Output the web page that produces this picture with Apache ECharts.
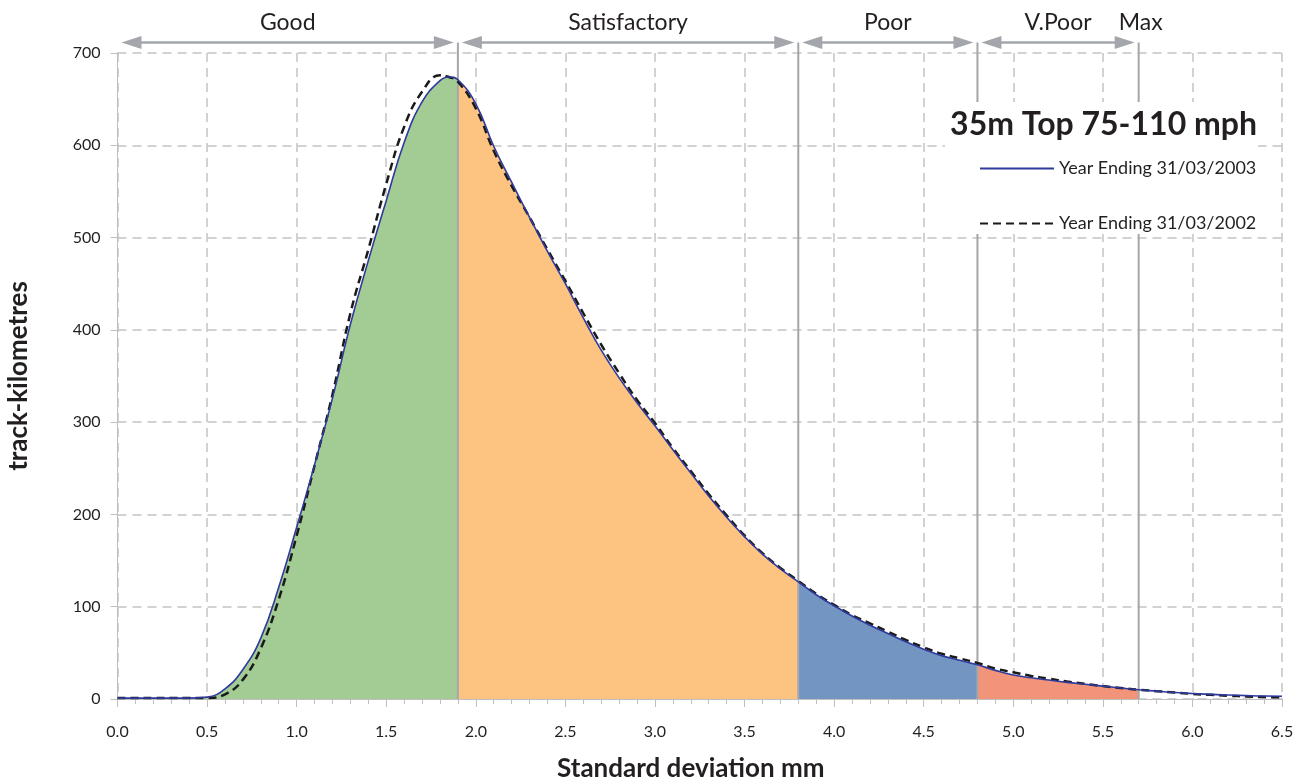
<!DOCTYPE html>
<html><head><meta charset="utf-8">
<script src="https://cdn.jsdelivr.net/npm/echarts@6/dist/echarts.min.js"></script>
<style>html,body{margin:0;padding:0;background:#fff}#c{width:1305px;height:782px}</style>
</head><body><div id="c"></div>
<script>
// ---------- data ----------
const sdValues = [0.0,0.1,0.2,0.3,0.4,0.5,0.6,0.7,0.8,0.9,1.0,1.1,1.2,1.3,1.4,1.5,1.6,1.7,1.8,1.85,1.9,
  2.0,2.1,2.2,2.3,2.4,2.5,2.6,2.7,2.8,2.9,3.0,3.1,3.2,3.3,3.4,3.5,3.6,3.7,3.8,3.9,
  4.0,4.1,4.2,4.3,4.4,4.5,4.6,4.7,4.8,4.9,5.0,5.1,5.2,5.3,5.4,5.5,5.6,5.7,5.8,5.9,
  6.0,6.1,6.2,6.3,6.4,6.5];
const kms2003 = [1,1,1,1,1,2,11,32,66,121,186,254,326,406,475,540,603,647,670,674,671,
  645,599,560,522,485,450,413,378,348,321,296,270,245,220,197,176,157,141,127,113,
  101,90,80,71,62,54,47,42,37,31,26,23,20.5,18,16,14,12,10,8.5,7,
  6,5,4.3,3.7,3.2,3];
const kms2002 = [1,1,1,1,1,1,5,21,55,108,177,253,330,418,487,558,620,658,676,674,669,
  640,594,556,522,487,453,418,384,353,324,299,272,247,222,199,177,158,142,128,114,
  102,91,82,73,64,56,49,44,39,33,29,25,22,19,16.5,14,12,10,8.5,7,
  5.5,4.5,3.5,2.8,2.2,1.8];
const bandLabels = ['Good','Satisfactory','Poor','V.Poor'];
const bandEdges = [0.0, 1.9, 3.8, 4.8, 5.7];
const maxLabel = 'Max';
const seriesNames = ['Year Ending 31/03/2003','Year Ending 31/03/2002'];
const chartTitle = '35m Top 75-110 mph';
const xAxisTitle = 'Standard deviation mm';
const yAxisTitle = 'track-kilometres';
const xRange = [0, 6.5], xStep = 0.5;
const yRange = [0, 700], yStep = 100;

// ---------- styles ----------
const FONT = 'Lato, "Open Sans", sans-serif';
const TEXT = '#231f20';
const GRAY = '#a3a7ac';
const GRID = '#c3c3c3';
const bandFill = ['#a3cc94','#fdc380','#7295c1','#f29479'];
const SMOOTH = 0.45;

function segment(from, to) {
  const out = [];
  sdValues.forEach((x, i) => { if (x >= from - 1e-9 && x <= to + 1e-9) out.push([x, kms2003[i]]); });
  return out;
}

const areaSeries = bandLabels.map((name, i) => ({
  type: 'line', name: 'band-' + name, data: segment(bandEdges[i], bandEdges[i + 1]),
  smooth: SMOOTH, symbol: 'none', silent: true, z: 1,
  lineStyle: { width: 0 }, areaStyle: { color: bandFill[i], opacity: 1 }
}));

const chart = echarts.init(document.getElementById('c'), null, { renderer: 'canvas' });
chart.setOption({
  animation: false,
  backgroundColor: '#fff',
  grid: { left: 117.5, right: 23, top: 53, bottom: 83, outerBoundsMode: 'none', containLabel: false },
  title: {
    text: chartTitle, right: 48, top: 109, padding: 0,
    textStyle: { fontFamily: FONT, fontSize: 32, fontWeight: 'bold', color: TEXT }
  },
  legend: {
    data: seriesNames, orient: 'vertical', left: 979, top: 159.5, padding: 0,
    itemWidth: 74, itemHeight: 14, itemGap: 37,
    itemStyle: { opacity: 0 },
    textStyle: { fontFamily: FONT, fontSize: 18, color: TEXT, lineHeight: 14 }
  },
  graphic: { elements: [{ type: 'rect', z: 3, shape: { x: 945, y: 102, width: 313, height: 132 }, style: { fill: '#fff' }, silent: true }] },
  xAxis: {
    type: 'value', min: xRange[0], max: xRange[1], interval: xStep,
    name: xAxisTitle, nameLocation: 'middle', nameGap: 57,
    nameTextStyle: { fontFamily: FONT, fontSize: 26, fontWeight: 'bold', color: TEXT, padding: [0, 18, 0, 0] },
    axisLine: { show: true, lineStyle: { color: '#bfbfbf', width: 1 } },
    axisTick: { show: true, length: 8, lineStyle: { color: '#bfbfbf' } },
    minorTick: { show: true, splitNumber: 5, length: 5, lineStyle: { color: '#bfbfbf' } },
    axisLabel: { fontFamily: FONT, fontSize: 16, color: TEXT, margin: 25, formatter: v => v.toFixed(1) },
    splitLine: { show: true, lineStyle: { color: GRID, width: 1.5, type: [9, 6] } }
  },
  yAxis: {
    type: 'value', min: yRange[0], max: yRange[1], interval: yStep,
    name: yAxisTitle, nameLocation: 'middle', nameGap: 86,
    nameTextStyle: { fontFamily: FONT, fontSize: 26, fontWeight: 'bold', color: TEXT },
    axisLine: { show: true, lineStyle: { color: '#bfbfbf', width: 1 } },
    axisTick: { show: true, length: 7, lineStyle: { color: '#bfbfbf' } },
    axisLabel: { fontFamily: FONT, fontSize: 16, color: TEXT, margin: 17 },
    splitLine: { show: true, lineStyle: { color: GRID, width: 1.5, type: [9, 6] } }
  },
  series: [
    ...areaSeries,
    {
      type: 'custom', name: 'boundaries', silent: true, clip: false, z: 2,
      data: bandEdges.slice(1).map(v => [v]),
      renderItem(params, api) {
        const p0 = api.coord([api.value(0), yRange[0]]);
        const yTop = api.coord([api.value(0), yRange[1]])[1];
        const children = [{ type: 'line', shape: { x1: p0[0], y1: yTop - 10.5, x2: p0[0], y2: p0[1] }, style: { stroke: GRAY, lineWidth: 2 } }];
        if (params.dataIndex === bandEdges.length - 2) {
          children.push({ type: 'text', x: p0[0] + 2, y: yTop - 30, style: { text: maxLabel, fontFamily: FONT, fontSize: 23, fill: TEXT, align: 'center', verticalAlign: 'middle' } });
        }
        return { type: 'group', children };
      }
    },
    {
      type: 'custom', name: 'bands', silent: true, clip: false, z: 2,
      data: bandLabels.map((n, i) => [bandEdges[i], bandEdges[i + 1]]),
      renderItem(params, api) {
        const x0 = api.coord([api.value(0), yRange[1]])[0];
        const x1 = api.coord([api.value(1), yRange[1]])[0];
        const ya = api.coord([api.value(0), yRange[1]])[1] - 10.5;
        const a0 = x0 + 4, a1 = x1 - 4, L = 20, H = 6.5;
        return { type: 'group', children: [
          { type: 'line', shape: { x1: a0 + L - 2, y1: ya, x2: a1 - L + 2, y2: ya }, style: { stroke: GRAY, lineWidth: 2.5 } },
          { type: 'polygon', shape: { points: [[a0, ya], [a0 + L, ya - H], [a0 + L, ya + H]] }, style: { fill: GRAY } },
          { type: 'polygon', shape: { points: [[a1, ya], [a1 - L, ya - H], [a1 - L, ya + H]] }, style: { fill: GRAY } },
          { type: 'text', x: (x0 + x1) / 2, y: ya - 19.5, style: { text: bandLabels[params.dataIndex], fontFamily: FONT, fontSize: 23, fill: TEXT, align: 'center', verticalAlign: 'middle' } }
        ] };
      }
    },
    {
      type: 'line', name: seriesNames[0], data: sdValues.map((x, i) => [x, kms2003[i]]),
      smooth: SMOOTH, symbol: 'none', z: 5,
      lineStyle: { color: '#2f3a9c', width: 1.6 }, itemStyle: { color: '#2f3a9c' }
    },
    {
      type: 'line', name: seriesNames[1], data: sdValues.map((x, i) => [x, kms2002[i]]),
      smooth: SMOOTH, symbol: 'none', z: 4,
      lineStyle: { color: '#1a1a1a', width: 2.5, type: [8, 5] }, itemStyle: { color: '#1a1a1a' }
    }
  ]
});
</script></body></html>
